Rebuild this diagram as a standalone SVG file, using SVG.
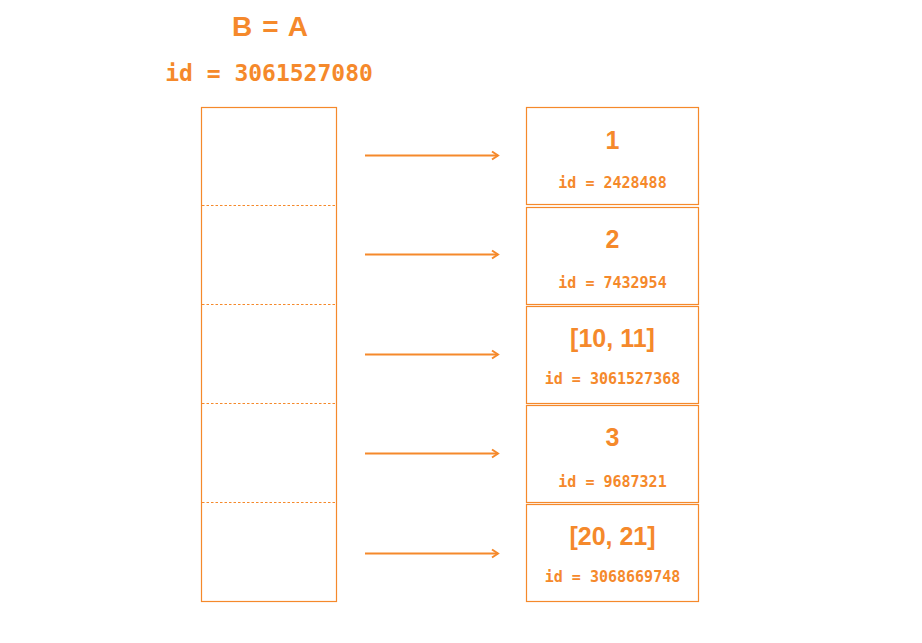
<svg xmlns="http://www.w3.org/2000/svg" width="922" height="643" viewBox="0 0 922 643">
<style>
.box{fill:none;stroke:#F5892B;stroke-width:1.2}
.div{stroke:#F5892B;stroke-width:1.2;stroke-dasharray:2.5 2}
.arr{stroke:#F5892B;stroke-width:2;fill:none}
.val{font-family:"Liberation Sans",Arial,sans-serif;font-weight:bold;font-size:25px;fill:#F5892B;text-anchor:middle}
.id{font-family:"DejaVu Sans Mono","Liberation Mono",monospace;font-weight:bold;font-size:15px;fill:#F5892B;text-anchor:middle}
</style>
<defs>
<marker id="ah" markerWidth="12" markerHeight="12" refX="10" refY="6" orient="auto" markerUnits="userSpaceOnUse">
<path d="M4,2 L10,6 L4,10" fill="none" stroke="#F5892B" stroke-width="2"/>
</marker>
</defs>
<rect width="922" height="643" fill="#fff"/>
<g id="title">
<text x="270" y="36" class="val" style="font-size:28px" textLength="76">B = A</text>
<text x="269" y="81" class="id" style="font-size:23px">id = 3061527080</text>
</g>
<g id="list">
<rect class="box" x="201.5" y="107.5" width="135" height="494"/>
<line class="div" x1="202" y1="205.5" x2="336" y2="205.5"/>
<line class="div" x1="202" y1="304.5" x2="336" y2="304.5"/>
<line class="div" x1="202" y1="403.5" x2="336" y2="403.5"/>
<line class="div" x1="202" y1="502.5" x2="336" y2="502.5"/>
</g>
<g id="connectors">
<line class="arr" x1="365" y1="155.5" x2="498" y2="155.5" marker-end="url(#ah)"/>
<line class="arr" x1="365" y1="254.5" x2="498" y2="254.5" marker-end="url(#ah)"/>
<line class="arr" x1="365" y1="354.5" x2="498" y2="354.5" marker-end="url(#ah)"/>
<line class="arr" x1="365" y1="453.5" x2="498" y2="453.5" marker-end="url(#ah)"/>
<line class="arr" x1="365" y1="553.5" x2="498" y2="553.5" marker-end="url(#ah)"/>
</g>
<g id="obj1">
<rect class="box" x="526.5" y="107.5" width="172" height="97"/>
<text class="val" x="612.5" y="149">1</text>
<text class="id" x="612.5" y="188">id = 2428488</text>
</g>
<g id="obj2">
<rect class="box" x="526.5" y="207.5" width="172" height="97"/>
<text class="val" x="612.5" y="248">2</text>
<text class="id" x="612.5" y="288">id = 7432954</text>
</g>
<g id="obj3">
<rect class="box" x="526.5" y="306.5" width="172" height="97"/>
<text class="val" x="612.5" y="347">[10, 11]</text>
<text class="id" x="612.5" y="384">id = 3061527368</text>
</g>
<g id="obj4">
<rect class="box" x="526.5" y="405.5" width="172" height="97"/>
<text class="val" x="612.5" y="446">3</text>
<text class="id" x="612.5" y="487">id = 9687321</text>
</g>
<g id="obj5">
<rect class="box" x="526.5" y="504.5" width="172" height="97"/>
<text class="val" x="612.5" y="545">[20, 21]</text>
<text class="id" x="612.5" y="582">id = 3068669748</text>
</g>
</svg>
